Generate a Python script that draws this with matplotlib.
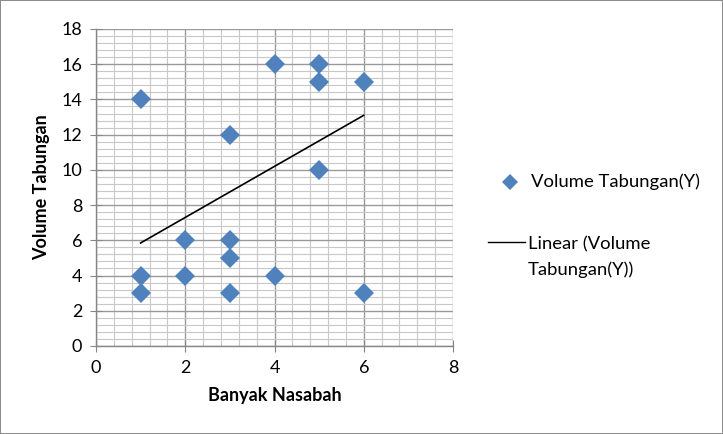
# scatter of savings volume against number of customers, with linear trend

import matplotlib.pyplot as plt
from matplotlib.lines import Line2D
from matplotlib.ticker import MultipleLocator

plt.rcParams['font.family'] = ['Lato', 'DejaVu Sans']

banyak_nasabah = [1, 1, 1, 2, 2, 3, 3, 3, 3, 4, 4, 5, 5, 5, 6, 6]
volume_tabungan = [14, 4, 3, 6, 4, 12, 6, 5, 3, 16, 4, 16, 15, 10, 15, 3]

# trend line end points as shown in the chart
trend_x = [1, 6]
trend_y = [5.85, 13.1]

label_points = "Volume Tabungan(Y)"
label_trend = "Linear (Volume\nTabungan(Y))"

blue = '#4F81BD'
axis_gray = '#868686'

fig = plt.figure(figsize=(7.23, 4.34), dpi=100)
fig.patch.set_edgecolor('#8c8c8c')
fig.patch.set_linewidth(1.2)
ax = fig.add_axes([0.1328, 0.2028, 0.4938, 0.7304])

ax.set_xlim(0, 8)
ax.set_ylim(0, 18)
ax.xaxis.set_major_locator(MultipleLocator(2))
ax.yaxis.set_major_locator(MultipleLocator(2))
ax.xaxis.set_minor_locator(MultipleLocator(0.4))
ax.yaxis.set_minor_locator(MultipleLocator(0.4))

ax.grid(which='major', color='#9a9a9a', lw=1.0)
ax.grid(which='minor', color='#c8c8c8', lw=0.8)
ax.set_axisbelow(True)

for side in ['top', 'right']:
    ax.spines[side].set_visible(False)
for side in ['left', 'bottom']:
    ax.spines[side].set_color(axis_gray)
    ax.spines[side].set_linewidth(1.0)

ax.tick_params(which='major', direction='inout', length=8, color=axis_gray,
               labelsize=13, pad=6)
ax.tick_params(which='minor', length=0)

ax.plot(trend_x, trend_y, color='black', lw=1.2, zorder=2)
ax.plot(banyak_nasabah, volume_tabungan, 'D', color=blue, ms=10,
        markeredgewidth=0, zorder=3, clip_on=False)

ax.set_xlabel("Banyak Nasabah", fontsize=13, fontweight='bold', labelpad=8)
ax.set_ylabel("Volume Tabungan", fontsize=13, fontweight='bold', labelpad=8)

# legend on the right
fig.add_artist(Line2D([0.7054], [0.5806], marker='D', color=blue, ms=8,
                      markeredgewidth=0, linestyle='none'))
fig.text(0.7344, 0.5806, label_points, fontsize=13.3, va='center')
fig.add_artist(Line2D([0.675, 0.726], [0.4424, 0.4424], color='black', lw=1.0))
fig.text(0.7303, 0.4562, label_trend, fontsize=13.3, va='top',
         linespacing=1.7)

plt.savefig("out.png", dpi=100)
